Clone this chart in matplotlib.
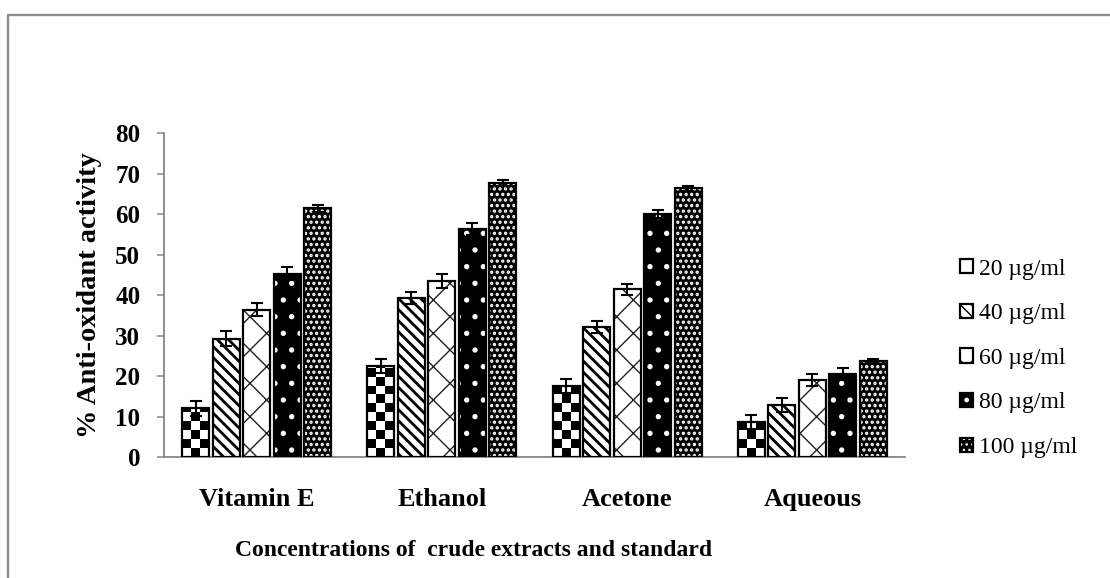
import numpy as np
import matplotlib.pyplot as plt
from matplotlib.lines import Line2D

categories = ['Vitamin E', 'Ethanol', 'Acetone', 'Aqueous']
series = ['20 µg/ml', '40 µg/ml', '60 µg/ml', '80 µg/ml', '100 µg/ml']

# % anti-oxidant activity, one list per concentration (Vitamin E, Ethanol, Acetone, Aqueous)
c20 = [12.0, 22.4, 17.6, 8.6]
c40 = [29.2, 39.3, 32.2, 12.8]
c60 = [36.4, 43.5, 41.4, 19.0]
c80 = [45.3, 56.4, 60.0, 20.5]
c100 = [61.4, 67.7, 66.3, 23.7]

e20 = [1.8, 1.7, 1.7, 1.7]
e40 = [1.8, 1.5, 1.5, 1.7]
e60 = [1.7, 1.7, 1.4, 1.5]
e80 = [1.6, 1.5, 1.0, 1.5]
e100 = [0.9, 0.7, 0.6, 0.6]

values = [c20, c40, c60, c80, c100]
errors = [e20, e40, e60, e80, e100]

# face, hatch colour, hatch, hatch linewidth
styles = [
    ('white', 'black', None, 1.0),
    ('white', 'black', '\\\\\\', 2.0),
    ('white', '#222222', 'x', 1.0),
    ('black', 'white', '.', 1.4),
    ('black', 'white', '...', 1.6),
]

plt.rcParams['font.family'] = ['Liberation Serif', 'DejaVu Serif']

fig = plt.figure(figsize=(11.1, 5.78), dpi=100)
ax = fig.add_axes([0.1477, 0.2093, 0.6676, 0.5606])

x = np.arange(len(categories))
slot = 0.1646
bw = 0.145

handles = []
for i, (vals, errs) in enumerate(zip(values, errors)):
    face, hcol, hatch, hlw = styles[i]
    pos = x + (i - 2) * slot
    with plt.rc_context({'hatch.linewidth': hlw}):
        fill = ax.bar(pos, vals, bw, color=face, edgecolor=hcol, linewidth=0,
                      hatch=hatch, zorder=2)
    for p in fill:
        if hasattr(p, 'set_hatch_linewidth'):
            p.set_hatch_linewidth(hlw)
    if i == 0:
        # checkerboard fill clipped to each bar
        cell = 2.2
        for p in fill:
            h = p.get_height()
            nrows = int(np.ceil(h / cell))
            img = np.indices((nrows, 3)).sum(axis=0) % 2
            im = ax.imshow(img, cmap='gray_r', origin='lower', interpolation='nearest',
                           aspect='auto', zorder=2.5,
                           extent=(p.get_x(), p.get_x() + p.get_width(), 0, nrows * cell))
            im.set_clip_path(p)
    outline = ax.bar(pos, vals, bw, fill=False, edgecolor='black', linewidth=1.6, zorder=3)
    ax.errorbar(pos, vals, yerr=errs, fmt='none', ecolor='black', elinewidth=1.5,
                capsize=4.5, capthick=1.5, zorder=4)
    handles.append((fill, outline))

ax.set_xlim(-0.5, 3.5)
ax.set_ylim(0, 80)
ax.set_yticks(np.arange(0, 81, 10))
ax.set_xticks(x)
ax.set_xticklabels(categories, fontsize=19, fontweight='bold')
ax.tick_params(axis='x', length=0, pad=22)
ax.tick_params(axis='y', length=5, width=1.1, color='#868686', pad=12, labelsize=18)
for t in ax.get_yticklabels():
    t.set_fontweight('bold')

for s in ['top', 'right']:
    ax.spines[s].set_visible(False)
for s in ['left', 'bottom']:
    ax.spines[s].set_color('#868686')
    ax.spines[s].set_linewidth(1.3)

ax.set_ylabel('% Anti-oxidant activity', fontsize=20.5, fontweight='bold')
ax.yaxis.set_label_coords(-0.084, 0.5)
ax.set_xlabel('Concentrations of  crude extracts and standard', fontsize=17, fontweight='bold')
ax.xaxis.set_label_coords(0.418, -0.257)

leg_handles = [(f[0], o[0]) for f, o in handles]
fig.legend(leg_handles, series, loc='center left', bbox_to_anchor=(0.865, 0.38),
           frameon=False, fontsize=17, handlelength=0.55, handleheight=0.55,
           handletextpad=0.25, labelspacing=1.0, borderpad=0, borderaxespad=0)

# outer frame (top and left edges only)
fig.add_artist(Line2D([0.0072, 0.0072, 1.0], [0.0, 0.974, 0.974], transform=fig.transFigure,
                      color='#8c8c8c', linewidth=1.7))

fig.savefig('out.png', dpi=100)
